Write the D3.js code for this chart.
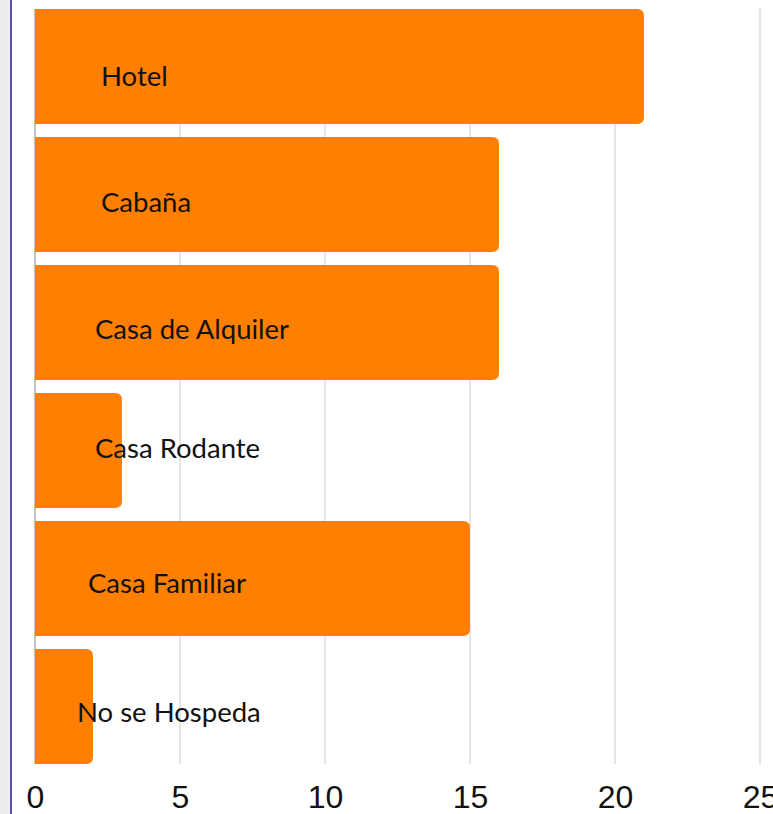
<!DOCTYPE html>
<html>
<head>
<meta charset="utf-8">
<script src="https://cdn.jsdelivr.net/npm/d3@7"></script>
<style>
  body { margin: 0; background: #fff; overflow: hidden; }
  .lbl { font-family: Lato, "Open Sans", sans-serif; font-size: 27.5px; fill: #111; }
  .tick text { font-family: "Liberation Sans", Arial, sans-serif; font-size: 32px; fill: #111; }
</style>
</head>
<body>
<div id="chart"></div>
<script>
// data
const categories = ["Hotel", "Cabaña", "Casa de Alquiler", "Casa Rodante", "Casa Familiar", "No se Hospeda"];
const counts = [21, 16, 16, 3, 15, 2];
const tickValues = [0, 5, 10, 15, 20, 25];

// label placement (start of text, offset from bar middle)
const labelX = [101, 101, 95, 95, 88, 77];
const labelDy = [10, 8, 7, -2, 5, 6];

/** CONSTANTS */
const width = 773;
const height = 814;
const margins = {top: 9, bottom: 50, left: 35, right: 13};

const svg = d3.select('#chart')
  .append("svg")
  .attr("width", width)
  .attr("height", height)

// side panel on the left
svg.append("rect")
  .attr("x", 0).attr("y", 0)
  .attr("width", 11).attr("height", height)
  .attr("fill", "#efedeb")
svg.append("rect")
  .attr("x", 10).attr("y", 0)
  .attr("width", 2).attr("height", height)
  .attr("fill", "#5b4fb0")

/** SCALES */
const xScale = d3.scaleLinear()
  .domain([0, 25])
  .range([margins.left, margins.left + 725])

const yScale = d3.scaleBand()
  .domain(categories)
  .range([margins.top, height - margins.bottom])
  .paddingInner(0.1016)
  .paddingOuter(0)

const bottom = yScale(categories[categories.length - 1]) + yScale.bandwidth();

// gridlines
svg.selectAll("line.grid")
  .data(tickValues)
  .join("line")
  .attr("class", "grid")
  .attr("x1", d => xScale(d)).attr("x2", d => xScale(d))
  .attr("y1", margins.top).attr("y2", bottom)
  .attr("stroke", d => d === 0 ? "#999" : "#d4d4d4")
  .attr("stroke-width", 1.2)

// bars: square on the left, rounded on the right
const r = 7;
svg.selectAll("path.bar")
  .data(counts)
  .join("path")
  .attr("class", "bar")
  .attr("fill", "#ff7f00")
  .attr("d", (d, i) => {
    const x0 = xScale(0), x1 = xScale(d);
    const y0 = yScale(categories[i]), y1 = y0 + yScale.bandwidth();
    return `M${x0},${y0}H${x1 - r}Q${x1},${y0} ${x1},${y0 + r}V${y1 - r}Q${x1},${y1} ${x1 - r},${y1}H${x0}Z`;
  })

// category labels
svg.selectAll("text.lbl")
  .data(categories)
  .join("text")
  .attr("class", "lbl")
  .attr("x", (d, i) => labelX[i])
  .attr("y", (d, i) => yScale(d) + yScale.bandwidth() / 2 + labelDy[i])
  .attr("dy", "0.35em")
  .text(d => d)

// x axis
const xAxis = d3.axisBottom(xScale)
  .tickValues(tickValues)
  .tickSize(0)
  .tickPadding(0)

svg.append("g")
  .attr("transform", `translate(0, ${bottom + 21})`)
  .call(xAxis)
  .call(g => g.select(".domain").remove())
  .selectAll("text")
  .attr("dy", "0.71em")
</script>
</body>
</html>
